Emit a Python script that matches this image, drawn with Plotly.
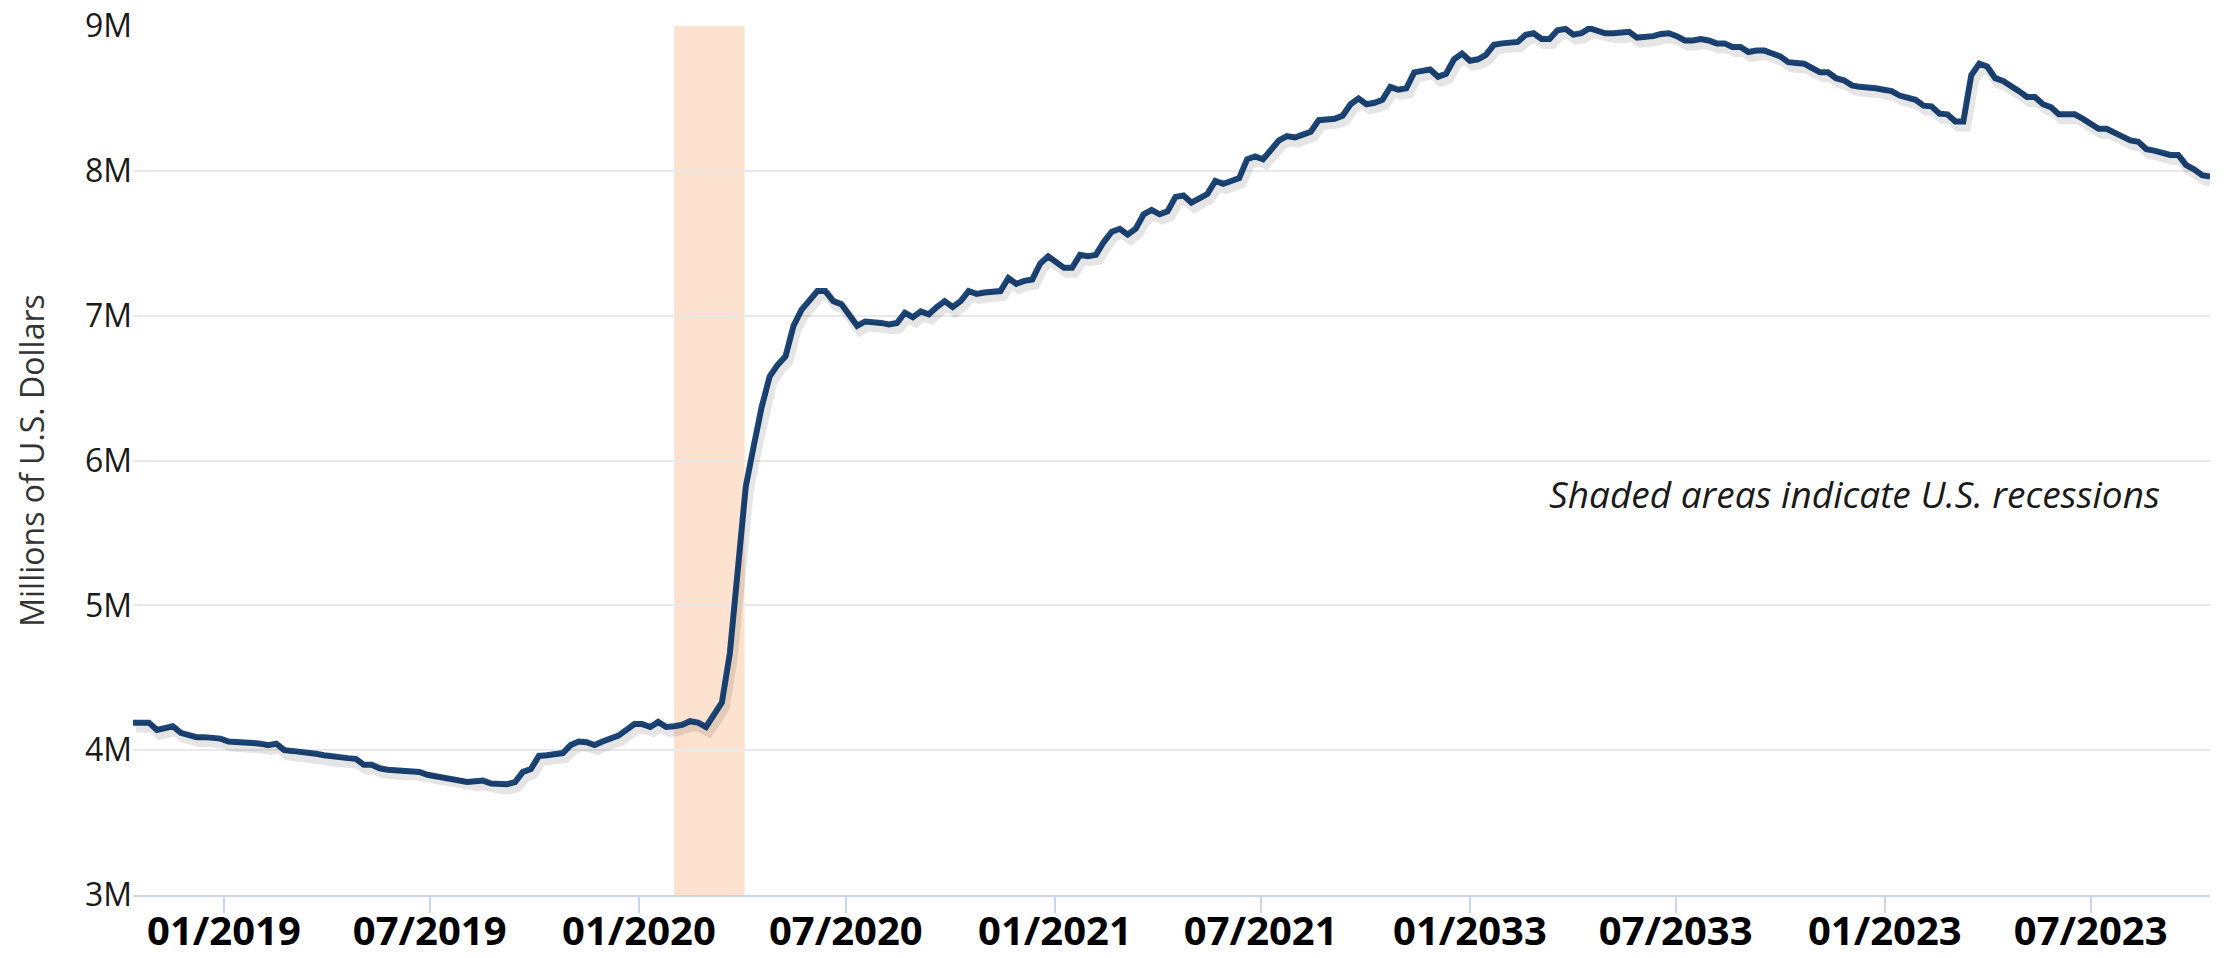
import pandas as pd
import plotly.graph_objects as go

# Weekly values, millions of millions of U.S. dollars (axis unit "M")
vals_2018 = [4.19, 4.19, 4.19, 4.14, 4.15, 4.165, 4.12, 4.10, 4.09, 4.09, 4.09, 4.08]
vals_2019 = [4.06, 4.06, 4.055, 4.05, 4.045, 4.035, 4.045, 4.00, 3.995, 3.99, 3.99, 3.975,
             3.965, 3.955, 3.95, 3.945, 3.94, 3.90, 3.90, 3.875, 3.865, 3.86, 3.86, 3.86,
             3.85, 3.83, 3.82, 3.815, 3.80, 3.80, 3.78, 3.785, 3.79, 3.77, 3.765, 3.765,
             3.78, 3.85, 3.87, 3.96, 3.965, 3.97, 3.98, 4.035, 4.06, 4.055, 4.035, 4.06,
             4.08, 4.10, 4.14, 4.18]
vals_2020 = [4.18, 4.16, 4.195, 4.16, 4.165, 4.175, 4.20, 4.19, 4.16, 4.24, 4.33, 4.67,
             5.25, 5.82, 6.10, 6.37, 6.58, 6.66, 6.72, 6.93, 7.04, 7.10, 7.17, 7.17,
             7.10, 7.08, 7.00, 6.93, 6.96, 6.96, 6.95, 6.94, 6.95, 7.02, 6.99, 7.03,
             7.01, 7.06, 7.10, 7.06, 7.10, 7.17, 7.15, 7.16, 7.17, 7.17, 7.26, 7.22,
             7.24, 7.25, 7.36, 7.41, 7.37]
vals_2021 = [7.33, 7.33, 7.42, 7.41, 7.42, 7.51, 7.58, 7.60, 7.56, 7.60, 7.70, 7.73,
             7.70, 7.72, 7.82, 7.83, 7.78, 7.81, 7.84, 7.93, 7.91, 7.93, 7.95, 8.08,
             8.10, 8.08, 8.15, 8.21, 8.24, 8.23, 8.25, 8.27, 8.35, 8.35, 8.36, 8.38,
             8.46, 8.50, 8.46, 8.47, 8.49, 8.58, 8.56, 8.57, 8.68, 8.69, 8.70, 8.65,
             8.67, 8.77, 8.81, 8.76]
vals_2022 = [8.77, 8.80, 8.87, 8.88, 8.88, 8.89, 8.94, 8.95, 8.91, 8.91, 8.97, 8.98,
             8.94, 8.95, 8.985, 8.97, 8.95, 8.95, 8.95, 8.96, 8.92, 8.92, 8.93, 8.945,
             8.95, 8.93, 8.90, 8.90, 8.91, 8.90, 8.88, 8.88, 8.855, 8.855, 8.82, 8.83,
             8.83, 8.81, 8.79, 8.75, 8.75, 8.74, 8.71, 8.68, 8.68, 8.64, 8.625, 8.59,
             8.58, 8.58, 8.57, 8.56]
vals_2023 = [8.55, 8.52, 8.51, 8.49, 8.45, 8.445, 8.395, 8.39, 8.34, 8.34, 8.66, 8.74,
             8.72, 8.64, 8.62, 8.59, 8.55, 8.51, 8.51, 8.46, 8.44, 8.39, 8.39, 8.39,
             8.36, 8.33, 8.29, 8.29, 8.26, 8.23, 8.21, 8.20, 8.15, 8.14, 8.12, 8.11,
             8.11, 8.04, 8.01, 7.97, 7.96]

first_date = "2018-10-13"
tick_dates = ["2019-01-01", "2019-07-01", "2020-01-01", "2020-07-01", "2021-01-01",
              "2021-07-01", "2022-01-01", "2022-07-01", "2023-01-01", "2023-07-01"]
tick_labels = ["01/2019", "07/2019", "01/2020", "07/2020", "01/2021",
               "07/2021", "01/2033", "07/2033", "01/2023", "07/2023"]
y_ticks = [3, 4, 5, 6, 7, 8, 9]
y_tick_labels = ["3M", "4M", "5M", "6M", "7M", "8M", "9M"]
recession_start = "2020-02-01"
recession_end = "2020-04-03"
y_title = "Millions of U.S. Dollars"
note_text = "Shaded areas indicate U.S. recessions"

values = vals_2018 + vals_2019 + vals_2020 + vals_2021 + vals_2022 + vals_2023
dates = pd.date_range(first_date, periods=len(values), freq="7D")

W, H = 2228, 958
ML, MR, MT, MB = 133, 18, 26, 63
plot_h = H - MT - MB
y_lo, y_hi = 3, 9
px_per_unit = plot_h / (y_hi - y_lo)
sh_dy = 5 / px_per_unit  # shadow offset (in axis units)

fig = go.Figure()
# soft shadow drawn on a slightly shifted overlay axis
fig.add_trace(go.Scatter(x=dates, y=values, mode="lines", xaxis="x2", yaxis="y2",
                         line=dict(color="rgba(0,0,0,0.10)", width=10),
                         hoverinfo="skip", showlegend=False))
fig.add_trace(go.Scatter(x=dates, y=values, mode="lines",
                         line=dict(color="#1c4578", width=6),
                         showlegend=False))

fig.add_shape(type="rect", xref="x", yref="y", x0=recession_start, x1=recession_end,
              y0=y_lo, y1=y_hi, fillcolor="#fde3cf", line=dict(width=0), layer="below")

fig.add_annotation(text=note_text, xref="paper", yref="paper", x=0.977, y=0.462,
                   xanchor="right", yanchor="middle", showarrow=False,
                   font=dict(family="Open Sans", size=37, color="#1a1a1a", style="italic"))

fig.update_layout(
    width=W, height=H,
    margin=dict(l=ML, r=MR, t=MT, b=MB),
    paper_bgcolor="white", plot_bgcolor="white",
    xaxis=dict(type="date", range=[dates[0], dates[-1]], tickvals=tick_dates, ticktext=tick_labels,
               showgrid=False, zeroline=False, showline=True, linecolor="#ccd6eb", linewidth=2,
               ticks="outside", ticklen=16, tickwidth=1.5, tickcolor="#ccd6eb",
               ticklabelstandoff=-16,
               tickfont=dict(family="Open Sans", size=40, color="#000000", weight="bold"),
               automargin=False),
    xaxis2=dict(type="date", overlaying="x", visible=False,
                range=[dates[0] - pd.Timedelta(days=2.5), dates[-1] - pd.Timedelta(days=2.5)]),
    yaxis=dict(range=[y_lo, y_hi], tickvals=y_ticks, ticktext=y_tick_labels,
               showgrid=True, gridcolor="#e9e9e9", gridwidth=2, zeroline=False, showline=False,
               ticks="", tickfont=dict(family="Open Sans", size=32, color="#1a1a1a"),
               title=dict(text=y_title, font=dict(family="Open Sans", size=32, color="#333333"),
                          standoff=30),
               automargin=False),
    yaxis2=dict(overlaying="y", visible=False, range=[y_lo + sh_dy, y_hi + sh_dy]),
    showlegend=False,
)

fig.write_html("out.html", post_script="document.body.style.margin='0';",
               config={"displayModeBar": False})
